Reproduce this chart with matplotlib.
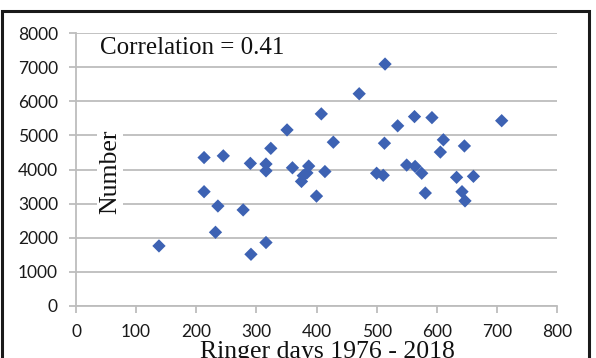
import matplotlib
matplotlib.use("Agg")
import matplotlib.pyplot as plt
from matplotlib.patches import Rectangle

# ringer days vs number
ringer_days = [138, 213, 245, 213, 236, 232, 278, 290, 291, 316, 316, 316,
               324, 351, 360, 375, 378, 384, 387, 400, 408, 414, 428, 471,
               514, 563, 592, 535, 708, 513, 611, 606, 646, 500, 511, 550,
               564, 575, 581, 633, 661, 642, 647]
numbers = [1760, 4350, 4400, 3350, 2930, 2160, 2815, 4180, 1515, 4160, 3960, 1860,
           4620, 5160, 4050, 3650, 3820, 3900, 4100, 3220, 5630, 3940, 4800, 6220,
           7090, 5550, 5520, 5280, 5430, 4770, 4870, 4510, 4690, 3890, 3830, 4130,
           4090, 3890, 3310, 3770, 3800, 3350, 3080]

x_ticks = [0, 100, 200, 300, 400, 500, 600, 700, 800]
y_ticks = [0, 1000, 2000, 3000, 4000, 5000, 6000, 7000, 8000]

W, H = 596, 358
fig = plt.figure(figsize=(W / 100, H / 100), dpi=100)
ax = fig.add_axes([76 / W, 1 - 306 / H, 481 / W, 273 / H])

ax.scatter(ringer_days, numbers, marker="D", s=46, color="#3D62B3",
           edgecolors="none", zorder=3)

ax.set_xlim(0, 800)
ax.set_ylim(0, 8000)
ax.set_xticks(x_ticks)
ax.set_yticks(y_ticks)

grid_col = "#BDBDBD"
ax.grid(axis="y", color=grid_col, linewidth=1.3)
ax.set_axisbelow(True)
for side in ("top", "right"):
    ax.spines[side].set_visible(False)
for side in ("left", "bottom"):
    ax.spines[side].set_color(grid_col)
    ax.spines[side].set_linewidth(1.3)

ax.tick_params(axis="both", colors=grid_col, width=1.3, length=5)
ax.tick_params(axis="y", pad=8)
ax.tick_params(axis="x", pad=8)
for lbl in ax.get_xticklabels() + ax.get_yticklabels():
    lbl.set_fontfamily("Lato")
    lbl.set_fontsize(12.5)
    lbl.set_color("#1a1a1a")

serif = "Liberation Serif"
ax.text(0.05, 0.945, "Correlation = 0.41", transform=ax.transAxes,
        family=serif, fontsize=18, va="center", ha="left", color="#111111")
ax.text(0.0707, 0.493, "Number", transform=ax.transAxes, rotation=90,
        family=serif, fontsize=18.5, va="center", ha="center", color="#111111",
        bbox=dict(facecolor="white", edgecolor="none", pad=1.5), zorder=4)

ax.set_xlabel("Ringer days 1976 - 2018", family=serif, fontsize=18.5,
              color="#111111")
ax.xaxis.set_label_coords((327 - 76) / 481, -35 / 273)

# dark frame around the whole chart
fig.patches.append(Rectangle((1.5 / W, -0.2), 587.5 / W, 1.2 - 10.5 / H,
                             transform=fig.transFigure, fill=False,
                             edgecolor="#1a1a1a", linewidth=2.2))

fig.savefig("out.png", dpi=100)
